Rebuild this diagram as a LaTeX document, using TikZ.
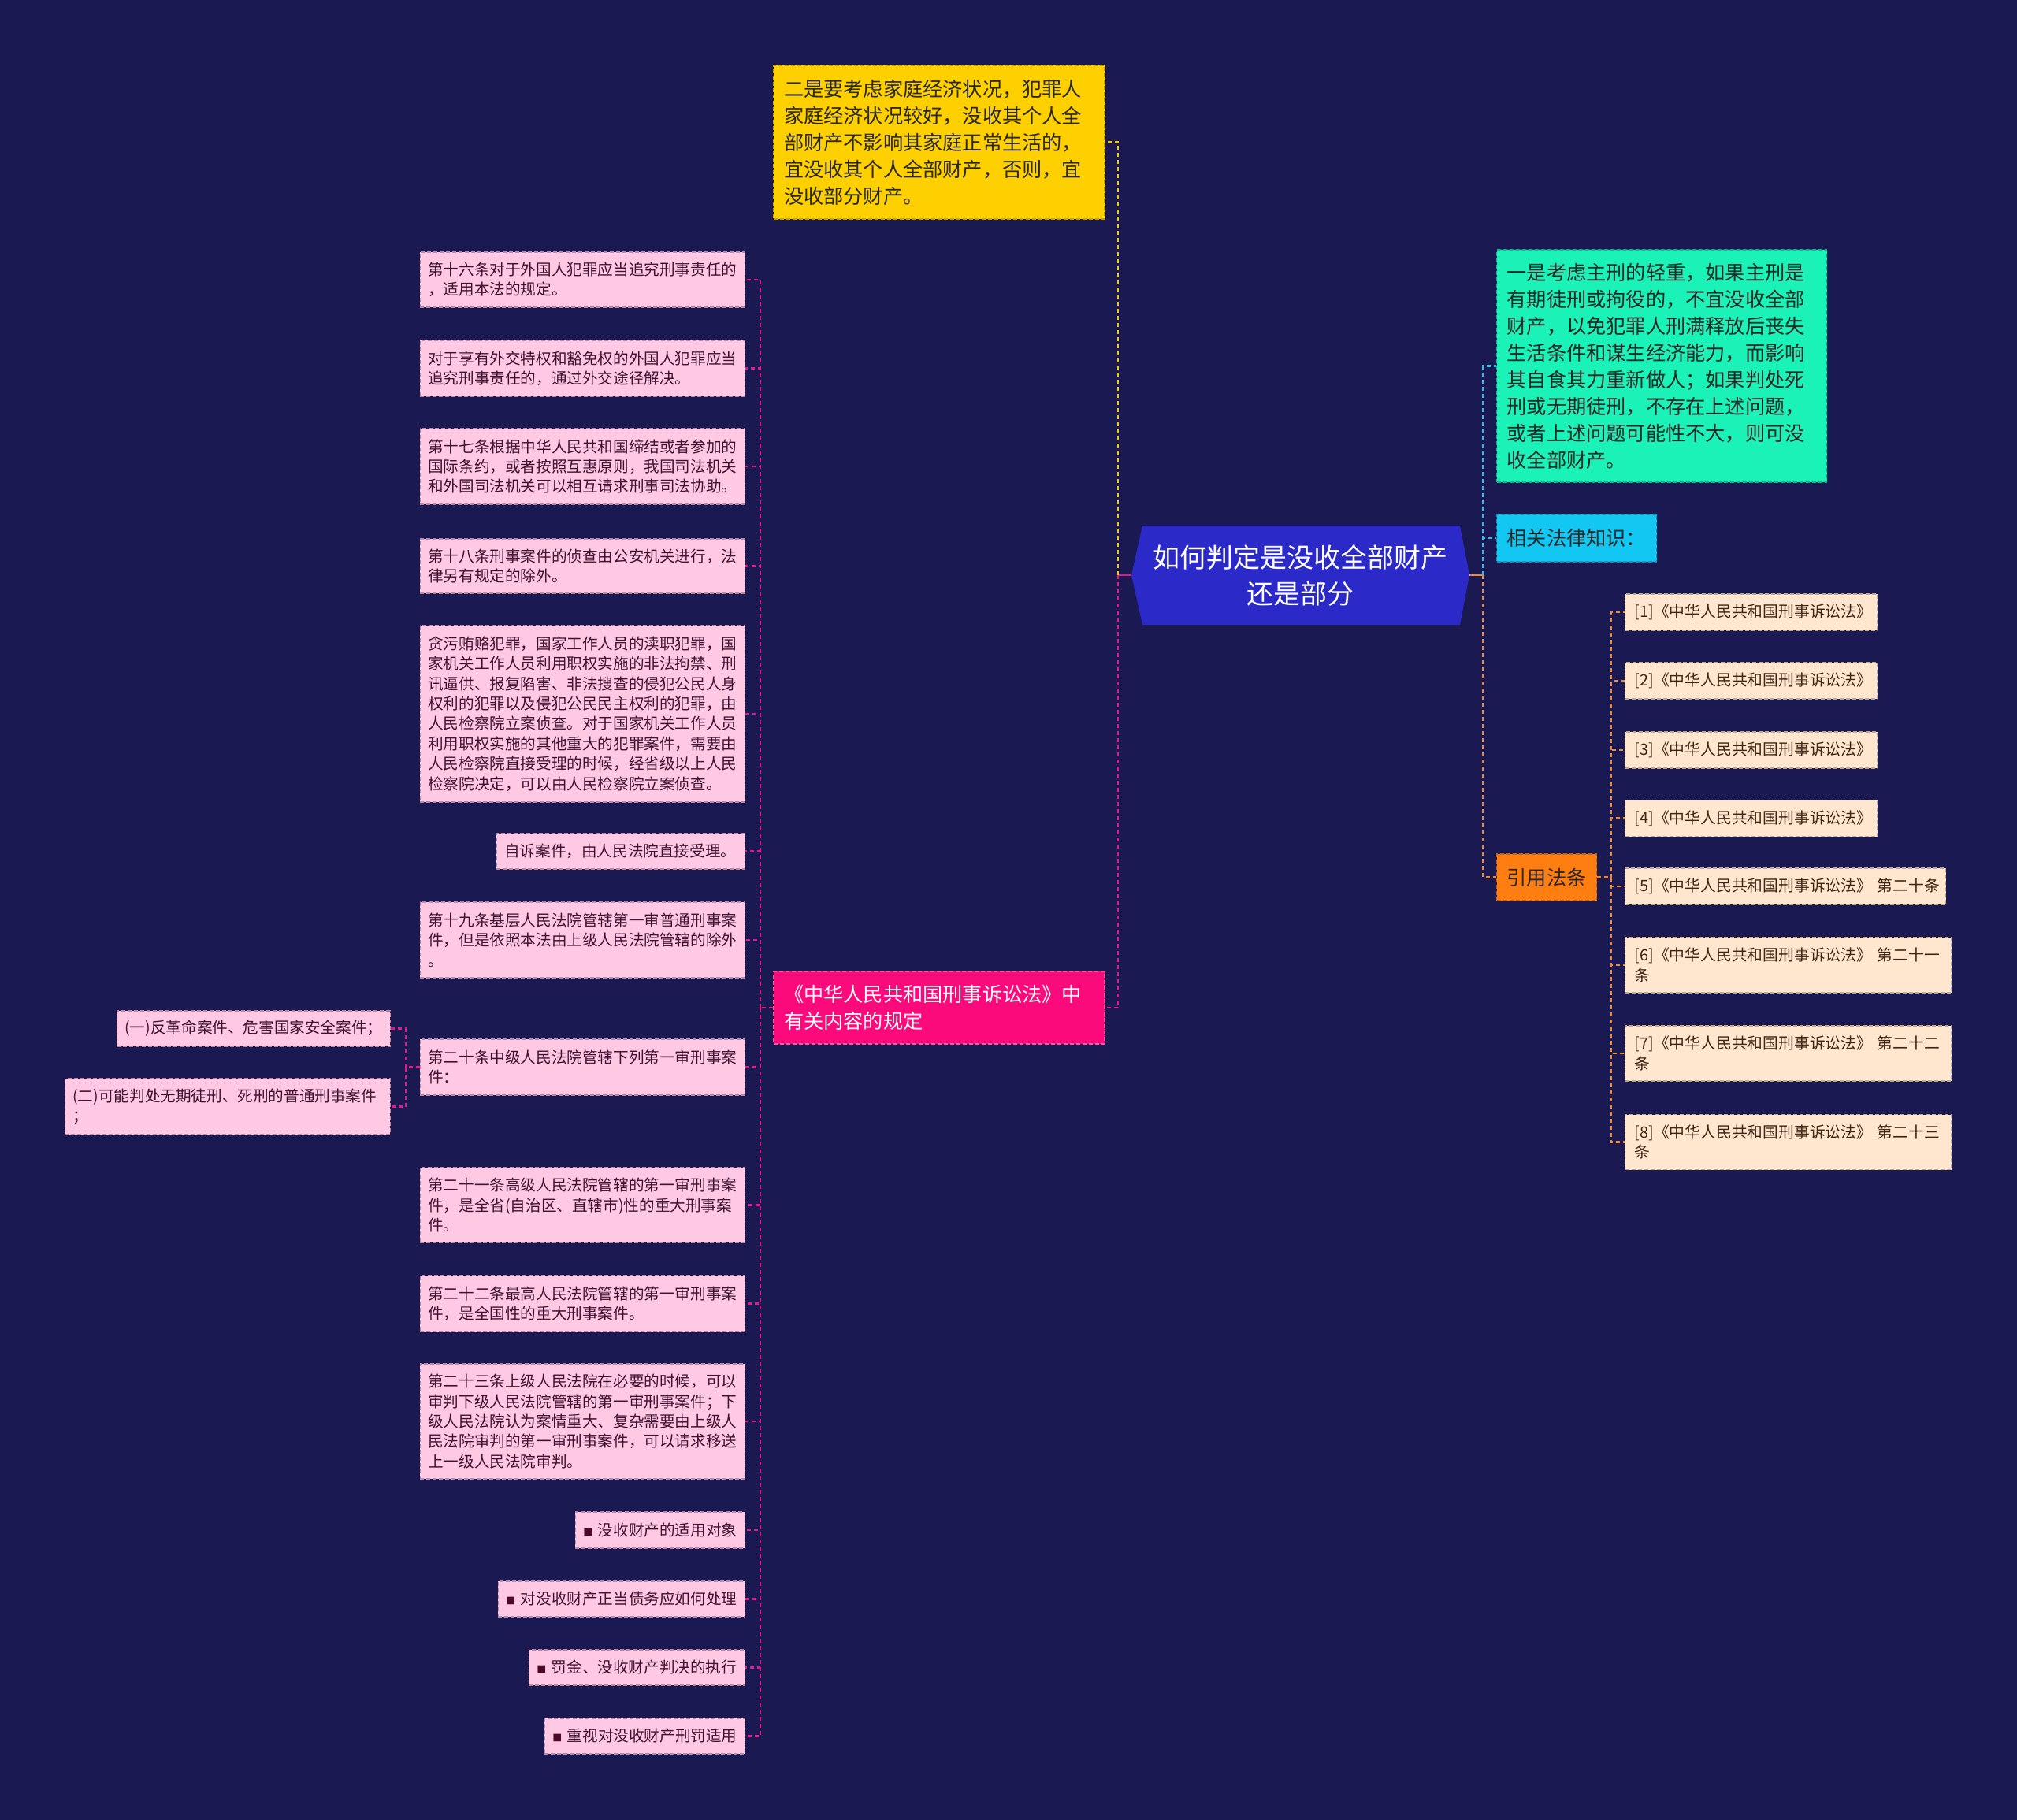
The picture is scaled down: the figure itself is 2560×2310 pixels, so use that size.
\documentclass[tikz,border=0pt]{standalone}
\usepackage{fontspec}
\setmainfont{Noto Sans CJK SC}
\definecolor{bg}{HTML}{1B1952}
\definecolor{cfill}{HTML}{2B29C8}
\definecolor{yfill}{HTML}{FFD000}
\definecolor{ydraw}{HTML}{C9A100}
\definecolor{yline}{HTML}{F2C811}
\definecolor{gfill}{HTML}{1BF2B8}
\definecolor{gdraw}{HTML}{12B890}
\definecolor{kfill}{HTML}{12C7F2}
\definecolor{kdraw}{HTML}{0A98C0}
\definecolor{kline}{HTML}{22C6E6}
\definecolor{ofill}{HTML}{FF7E12}
\definecolor{odraw}{HTML}{C86010}
\definecolor{oline}{HTML}{F08A30}
\definecolor{pfill}{HTML}{FA0A7A}
\definecolor{pdraw}{HTML}{FF5AA0}
\definecolor{pline}{HTML}{E3198A}
\definecolor{lpfill}{HTML}{FFC9E3}
\definecolor{lpdraw}{HTML}{B98AA8}
\definecolor{lptext}{HTML}{3E1230}
\definecolor{sqcol}{HTML}{4A0A28}
\definecolor{pcfill}{HTML}{FFE6CE}
\definecolor{pcdraw}{HTML}{BFA890}
\definecolor{pctext}{HTML}{3C2614}
\definecolor{dtext}{HTML}{262626}
\tikzset{
  boxbase/.style={rectangle, inner ysep=0pt, align=left, line width=1.3pt, dash pattern=on 5pt off 3pt},
  lvone/.style={boxbase, inner xsep=13pt, text=dtext, font=\fontsize{25.2}{34}\selectfont},
  leafl/.style={boxbase, inner xsep=10pt, fill=lpfill, draw=lpdraw, text=lptext, font=\fontsize{19.6}{25.4}\selectfont},
  leafr/.style={boxbase, inner xsep=12pt, fill=pcfill, draw=pcdraw, text=pctext, font=\fontsize{19.8}{25.5}\selectfont},
  link/.style={line width=2.8pt, dash pattern=on 5pt off 4pt},
  ylink/.style={link, draw=yline},
  plink/.style={link, draw=pline},
  klink/.style={link, draw=kline},
  olink/.style={link, draw=oline},
  centraltext/.style={rectangle, inner sep=0pt, align=center, text=white, minimum width=429pt, minimum height=126pt, font=\fontsize{34}{46}\selectfont},
}
\newcommand{\sqmark}{{\color{sqcol}\fontsize{12}{12}\selectfont ■}}
\begin{document}
\begin{tikzpicture}[x=1pt,y=-1pt]
\useasboundingbox (0,0) rectangle (2560,2310);
\fill[bg] (0,0) rectangle (2560,2310);

% central node
\fill[cfill] (1450,667) -- (1853,667) -- (1865,730) -- (1853,793) -- (1450,793) -- (1436,730) -- cycle;
\node[centraltext] (c) at (1650.5,730) {如何判定是没收全部财产\\还是部分};

% level one
\node[lvone, fill=yfill, draw=ydraw, text width=394pt, minimum height=195pt] (y) at (1192,180.5)
 {二是要考虑家庭经济状况，犯罪人\\家庭经济状况较好，没收其个人全\\部财产不影响其家庭正常生活的，\\宜没收其个人全部财产，否则，宜\\没收部分财产。};
\node[lvone, fill=pfill, draw=pdraw, text=white, text width=394pt, minimum height=92pt] (p) at (1192,1279)
 {《中华人民共和国刑事诉讼法》中\\有关内容的规定};
\node[lvone, fill=gfill, draw=gdraw, text width=393pt, minimum height=295pt, anchor=west] (g) at (1899,464.5)
 {一是考虑主刑的轻重，如果主刑是\\有期徒刑或拘役的，不宜没收全部\\财产，以免犯罪人刑满释放后丧失\\生活条件和谋生经济能力，而影响\\其自食其力重新做人；如果判处死\\刑或无期徒刑，不存在上述问题，\\或者上述问题可能性不大，则可没\\收全部财产。};
\node[lvone, fill=kfill, draw=kdraw, text width=177pt, minimum height=60pt, anchor=west] (k) at (1899,683)
 {相关法律知识：};
\node[lvone, fill=ofill, draw=odraw, text width=101pt, minimum height=59pt, anchor=west] (o) at (1899,1113.5)
 {引用法条};

% right leaves
\node[leafr, text width=296pt, minimum height=46pt, anchor=west] (r1) at (2062,777) {[1]《中华人民共和国刑事诉讼法》};
\node[leafr, text width=296pt, minimum height=46pt, anchor=west] (r2) at (2062,864) {[2]《中华人民共和国刑事诉讼法》};
\node[leafr, text width=296pt, minimum height=46pt, anchor=west] (r3) at (2062,952) {[3]《中华人民共和国刑事诉讼法》};
\node[leafr, text width=296pt, minimum height=46pt, anchor=west] (r4) at (2062,1038.5) {[4]《中华人民共和国刑事诉讼法》};
\node[leafr, text width=383pt, minimum height=46pt, anchor=west] (r5) at (2062,1125) {[5]《中华人民共和国刑事诉讼法》~第二十条};
\node[leafr, text width=390pt, minimum height=70pt, anchor=west] (r6) at (2062,1225) {[6]《中华人民共和国刑事诉讼法》~第二十一\\条};
\node[leafr, text width=390pt, minimum height=70pt, anchor=west] (r7) at (2062,1337) {[7]《中华人民共和国刑事诉讼法》~第二十二\\条};
\node[leafr, text width=390pt, minimum height=70pt, anchor=west] (r8) at (2062,1449.5) {[8]《中华人民共和国刑事诉讼法》~第二十三\\条};

% left leaves
\node[leafl, text width=392pt, minimum height=70pt, anchor=east] (a1) at (946,355)
 {第十六条对于外国人犯罪应当追究刑事责任的\\，适用本法的规定。};
\node[leafl, text width=392pt, minimum height=71pt, anchor=east] (a2) at (946,467.5)
 {对于享有外交特权和豁免权的外国人犯罪应当\\追究刑事责任的，通过外交途径解决。};
\node[leafl, text width=392pt, minimum height=96pt, anchor=east] (a3) at (946,592)
 {第十七条根据中华人民共和国缔结或者参加的\\国际条约，或者按照互惠原则，我国司法机关\\和外国司法机关可以相互请求刑事司法协助。};
\node[leafl, text width=392pt, minimum height=69pt, anchor=east] (a4) at (946,718.5)
 {第十八条刑事案件的侦查由公安机关进行，法\\律另有规定的除外。};
\node[leafl, text width=392pt, minimum height=224pt, anchor=east] (a5) at (946,906)
 {贪污贿赂犯罪，国家工作人员的渎职犯罪，国\\家机关工作人员利用职权实施的非法拘禁、刑\\讯逼供、报复陷害、非法搜查的侵犯公民人身\\权利的犯罪以及侵犯公民民主权利的犯罪，由\\人民检察院立案侦查。对于国家机关工作人员\\利用职权实施的其他重大的犯罪案件，需要由\\人民检察院直接受理的时候，经省级以上人民\\检察院决定，可以由人民检察院立案侦查。};
\node[leafl, text width=295pt, minimum height=45pt, anchor=east] (a6) at (946,1080.5)
 {自诉案件，由人民法院直接受理。};
\node[leafl, text width=392pt, minimum height=96pt, anchor=east] (a7) at (946,1193)
 {第十九条基层人民法院管辖第一审普通刑事案\\件，但是依照本法由上级人民法院管辖的除外\\。};
\node[leafl, text width=392pt, minimum height=71pt, anchor=east] (a8) at (946,1354.5)
 {第二十条中级人民法院管辖下列第一审刑事案\\件：};
\node[leafl, text width=392pt, minimum height=95pt, anchor=east] (a9) at (946,1529.5)
 {第二十一条高级人民法院管辖的第一审刑事案\\件，是全省(自治区、直辖市)性的重大刑事案\\件。};
\node[leafl, text width=392pt, minimum height=71pt, anchor=east] (a10) at (946,1654.5)
 {第二十二条最高人民法院管辖的第一审刑事案\\件，是全国性的重大刑事案件。};
\node[leafl, text width=392pt, minimum height=146pt, anchor=east] (a11) at (946,1804)
 {第二十三条上级人民法院在必要的时候，可以\\审判下级人民法院管辖的第一审刑事案件；下\\级人民法院认为案情重大、复杂需要由上级人\\民法院审判的第一审刑事案件，可以请求移送\\上一级人民法院审判。};
\node[leafl, text width=195pt, minimum height=46pt, anchor=east] (a12) at (946,1942)
 {\sqmark~没收财产的适用对象};
\node[leafl, text width=293pt, minimum height=45pt, anchor=east] (a13) at (946,2029.5)
 {\sqmark~对没收财产正当债务应如何处理};
\node[leafl, text width=254pt, minimum height=45pt, anchor=east] (a14) at (946,2116.5)
 {\sqmark~罚金、没收财产判决的执行};
\node[leafl, text width=234pt, minimum height=45pt, anchor=east] (a15) at (946,2203.5)
 {\sqmark~重视对没收财产刑罚适用};
\node[leafl, text width=327pt, minimum height=45pt, anchor=east] (b1) at (496,1305.5)
 {(一)反革命案件、危害国家安全案件；};
\node[leafl, text width=393pt, minimum height=71pt, anchor=east] (b2) at (496,1404.5)
 {(二)可能判处无期徒刑、死刑的普通刑事案件\\；};

% junctions
\coordinate (lj) at (1419,730);
\coordinate (rj) at (1882,730);
\coordinate (lj2) at (965,1279);
\coordinate (rj2) at (2045,1113.5);
\coordinate (sj) at (515,1354.5);

% connectors from centre
\draw[pline, line width=2.8pt] (c.west) -- (lj);
\draw[ylink] (lj) |- (y.east);
\draw[plink] (lj) |- (p.east);
\draw[oline, line width=2.8pt] (c.east) -- (rj);
\draw[klink] (rj) |- (g.west);
\draw[klink] (rj) |- (k.west);
\draw[olink] (rj) |- (o.west);

% right list
\draw[olink] (o.east) -- (rj2);
\foreach \n in {r1,r2,r3,r4,r5,r6,r7,r8} {\draw[olink] (rj2) |- (\n.west);}

% left list
\draw[plink] (p.west) -- (lj2);
\foreach \n in {a1,a2,a3,a4,a5,a6,a7,a8,a9,a10,a11,a12,a13,a14,a15} {\draw[plink] (lj2) |- (\n.east);}

% sub list
\draw[plink] (a8.west) -- (sj);
\draw[plink] (sj) |- (b1.east);
\draw[plink] (sj) |- (b2.east);
\end{tikzpicture}
\end{document}
